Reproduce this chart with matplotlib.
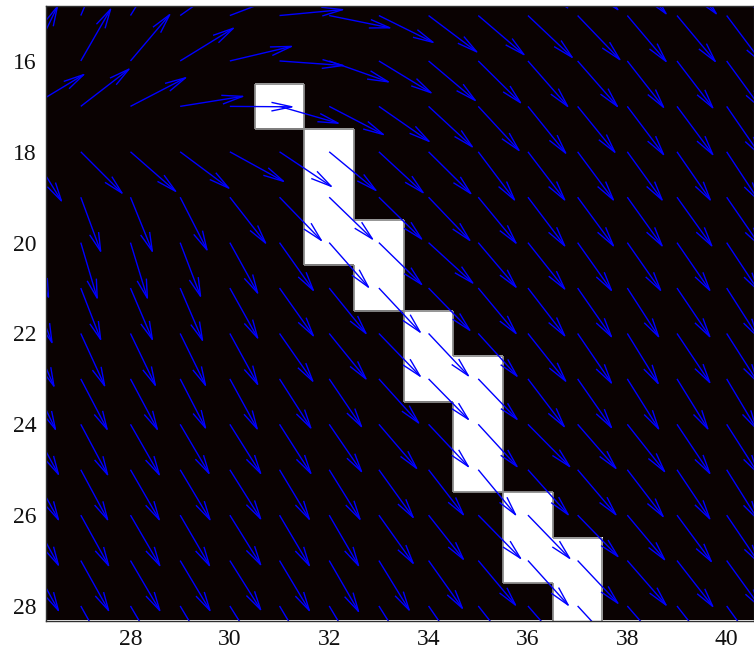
import numpy as np
import matplotlib
matplotlib.use("Agg")
import matplotlib.pyplot as plt
from matplotlib.colors import ListedColormap
from matplotlib.collections import LineCollection

# vector field grid (y grows downward, like an image)
xs = np.arange(26, 41)
ys = np.arange(14, 29)

# u component, one row per y in ys, one column per x in xs
U = [
    [0.40, 0.45, 0.60, 1.00, 1.20, 1.25, 1.20, 1.10, 1.00, 0.92, 0.80, 0.81, 0.78, 0.79, 0.75],
    [0.40, 0.45, 0.60, 1.03, 1.20, 1.27, 1.22, 1.09, 0.97, 0.92, 0.89, 0.85, 0.78, 0.77, 0.72],
    [0.53, 0.60, 0.79, 1.07, 1.24, 1.28, 1.19, 1.05, 0.94, 0.85, 0.80, 0.80, 0.73, 0.72, 0.70],
    [1.06, 0.97, 1.11, 1.26, 1.25, 1.18, 1.09, 1.01, 0.88, 0.82, 0.76, 0.75, 0.73, 0.72, 0.68],
    [0.61, 0.83, 0.91, 0.98, 1.08, 1.04, 0.94, 0.89, 0.85, 0.73, 0.74, 0.72, 0.70, 0.67, 0.65],
    [0.30, 0.40, 0.44, 0.54, 0.72, 0.84, 0.87, 0.86, 0.83, 0.76, 0.74, 0.72, 0.70, 0.70, 0.68],
    [0.35, 0.33, 0.34, 0.41, 0.56, 0.68, 0.79, 0.86, 0.89, 0.76, 0.74, 0.68, 0.67, 0.66, 0.64],
    [0.42, 0.40, 0.44, 0.45, 0.56, 0.68, 0.74, 0.83, 0.83, 0.76, 0.74, 0.68, 0.63, 0.66, 0.63],
    [0.46, 0.48, 0.50, 0.51, 0.56, 0.67, 0.74, 0.83, 0.80, 0.78, 0.76, 0.68, 0.62, 0.66, 0.63],
    [0.49, 0.53, 0.54, 0.51, 0.55, 0.63, 0.65, 0.80, 0.80, 0.78, 0.73, 0.68, 0.63, 0.62, 0.60],
    [0.55, 0.54, 0.58, 0.58, 0.62, 0.63, 0.65, 0.76, 0.80, 0.78, 0.84, 0.77, 0.75, 0.66, 0.63],
    [0.55, 0.54, 0.58, 0.60, 0.62, 0.60, 0.62, 0.69, 0.70, 0.75, 0.81, 0.77, 0.72, 0.66, 0.63],
    [0.55, 0.56, 0.59, 0.59, 0.62, 0.60, 0.59, 0.69, 0.70, 0.85, 0.84, 0.81, 0.75, 0.69, 0.65],
    [0.55, 0.56, 0.59, 0.60, 0.62, 0.60, 0.59, 0.61, 0.68, 0.75, 0.81, 0.81, 0.78, 0.72, 0.68],
    [0.55, 0.56, 0.59, 0.60, 0.62, 0.60, 0.60, 0.62, 0.66, 0.72, 0.78, 0.80, 0.78, 0.72, 0.68],
]

# v component (positive = downward)
V = [
    [-1.20, -1.15, -1.05, -0.80, -0.50, -0.20, 0.20, 0.50, 0.65, 0.78, 0.83, 0.87, 0.96, 0.96, 0.98],
    [-1.20, -1.15, -1.05, -0.79, -0.50, -0.13, 0.27, 0.59, 0.80, 0.86, 0.92, 0.97, 1.01, 1.01, 1.05],
    [-1.20, -1.14, -1.02, -0.72, -0.32, 0.10, 0.46, 0.70, 0.87, 0.92, 1.00, 1.00, 1.02, 1.03, 1.05],
    [-0.70, -0.82, -0.63, -0.22, 0.01, 0.37, 0.62, 0.77, 0.89, 0.97, 1.03, 1.01, 1.06, 1.06, 1.08],
    [1.08, 0.91, 0.87, 0.80, 0.65, 0.76, 0.85, 0.90, 0.92, 1.06, 1.06, 1.06, 1.06, 1.06, 1.08],
    [1.20, 1.19, 1.19, 1.16, 1.01, 0.95, 0.92, 0.92, 0.95, 1.01, 1.07, 1.07, 1.07, 1.07, 1.08],
    [1.20, 1.22, 1.22, 1.18, 1.11, 1.05, 0.98, 0.92, 0.89, 0.98, 1.02, 1.05, 1.05, 1.05, 1.06],
    [1.20, 1.13, 1.13, 1.15, 1.10, 1.05, 1.00, 0.97, 0.93, 1.00, 1.05, 1.07, 1.07, 1.07, 1.08],
    [1.16, 1.15, 1.14, 1.14, 1.12, 1.05, 1.00, 0.94, 0.93, 0.94, 1.05, 1.09, 1.10, 1.08, 1.08],
    [1.11, 1.11, 1.11, 1.08, 1.10, 1.08, 1.05, 0.97, 0.89, 0.89, 1.05, 1.07, 1.10, 1.10, 1.10],
    [1.10, 1.11, 1.11, 1.08, 1.08, 1.08, 1.04, 0.97, 0.93, 0.93, 0.93, 0.97, 1.04, 1.08, 1.08],
    [1.10, 1.10, 1.10, 1.10, 1.08, 1.09, 1.09, 1.05, 0.99, 0.99, 0.99, 0.99, 1.03, 1.08, 1.10],
    [1.10, 1.11, 1.11, 1.11, 1.09, 1.11, 1.11, 1.06, 0.97, 0.95, 0.95, 0.91, 0.98, 1.02, 1.05],
    [1.10, 1.10, 1.10, 1.10, 1.08, 1.10, 1.12, 1.09, 1.05, 0.98, 0.98, 0.94, 0.98, 1.01, 1.03],
    [1.10, 1.10, 1.10, 1.10, 1.08, 1.10, 1.10, 1.08, 1.05, 1.00, 0.98, 0.95, 0.98, 1.01, 1.03],
]

# white pixels of the image (column, row)
white_cells = [(31, 17), (32, 18), (32, 19), (32, 20), (33, 20), (33, 21),
               (34, 22), (34, 23), (35, 23), (35, 24), (35, 25),
               (36, 26), (36, 27), (37, 27), (37, 28)]

U = np.array(U)
V = np.array(V)
X, Y = np.meshgrid(xs, ys)

img_cols = np.arange(26, 42)
img_rows = np.arange(14, 30)
mask = np.zeros((len(img_rows), len(img_cols)))
for cx, cy in white_cells:
    mask[cy - img_rows[0], cx - img_cols[0]] = 1

plt.rcParams['font.family'] = ['Liberation Serif', 'DejaVu Serif']

fig = plt.figure(figsize=(7.54, 6.49), dpi=100)
ax = fig.add_axes([46 / 754, 1 - 620.5 / 649, 1 - 46 / 754, (620.5 - 6) / 649])

cmap = ListedColormap(['#0a0202', '#ffffff'])
ax.imshow(mask, cmap=cmap, interpolation='nearest', aspect='auto',
          extent=(img_cols[0] - 0.5, img_cols[-1] + 0.5, img_rows[-1] + 0.5, img_rows[0] - 0.5))

# grey outline around the white region
edges = []
white = set(white_cells)
for cx, cy in white_cells:
    if (cx - 1, cy) not in white:
        edges.append([(cx - 0.5, cy - 0.5), (cx - 0.5, cy + 0.5)])
    if (cx + 1, cy) not in white:
        edges.append([(cx + 0.5, cy - 0.5), (cx + 0.5, cy + 0.5)])
    if (cx, cy - 1) not in white:
        edges.append([(cx - 0.5, cy - 0.5), (cx + 0.5, cy - 0.5)])
    if (cx, cy + 1) not in white:
        edges.append([(cx - 0.5, cy + 0.5), (cx + 0.5, cy + 0.5)])
ax.add_collection(LineCollection(edges, colors='#8c8c8c', linewidths=1.3))

# arrows with open heads, matlab style
alpha, beta = 0.33, 0.23
segs = []
for x, y, u, v in zip(X.ravel(), Y.ravel(), U.ravel(), V.ravel()):
    tx, ty = x + u, y + v
    segs.append([(x, y), (tx, ty)])
    segs.append([(tx - alpha * (u + beta * v), ty - alpha * (v - beta * u)),
                 (tx, ty),
                 (tx - alpha * (u - beta * v), ty - alpha * (v + beta * u))])
ax.add_collection(LineCollection(segs, colors='#0000ff', linewidths=1.0))

ax.set_xlim(26.30, 40.55)
ax.set_ylim(28.32, 14.79)
ax.set_xticks(np.arange(28, 41, 2))
ax.set_yticks(np.arange(16, 29, 2))
ax.tick_params(length=0, labelsize=17, colors='#111111')
ax.tick_params(axis='x', pad=6)
ax.tick_params(axis='y', pad=7)
for s in ax.spines.values():
    s.set_color('#303030')
    s.set_linewidth(1.0)

plt.savefig('out.png', dpi=100)
